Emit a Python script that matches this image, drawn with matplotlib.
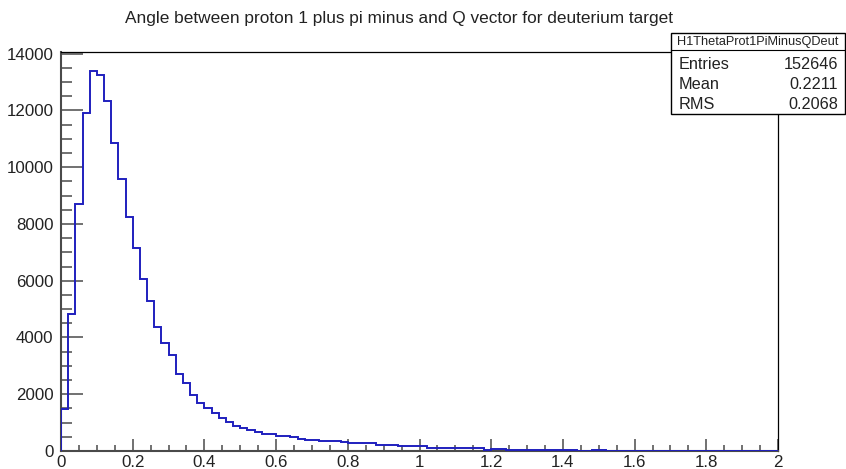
import numpy as np
import matplotlib
matplotlib.use("Agg")
import matplotlib.pyplot as plt
from matplotlib.patches import Rectangle
from matplotlib.lines import Line2D
from matplotlib.ticker import MultipleLocator

plt.rcParams['font.family'] = ['Liberation Sans', 'DejaVu Sans']

# Histogram: 100 bins of width 0.02 between 0 and 2
x_min, x_max, n_bins = 0.0, 2.0, 100
counts = [
    1465, 4810, 8690, 11900, 13390, 13250, 12350, 10870, 9590, 8240,
    7150, 6075, 5290, 4375, 3810, 3400, 2700, 2405, 1970, 1700,
    1525, 1350, 1150, 1010, 870, 800, 730, 680, 585, 585,
    530, 530, 480, 435, 400, 400, 350, 350, 350, 310,
    265, 265, 265, 265, 220, 220, 220, 165, 165, 165,
    165, 110, 110, 110, 110, 110, 110, 110, 110, 30,
    80, 80, 30, 30, 30, 30, 30, 30, 30, 30,
    30, 30, 0, 0, 25, 25,
]
counts = counts + [0] * (n_bins - len(counts))

title = "Angle between proton 1 plus pi minus and Q vector for deuterium target"
hist_name = "H1ThetaProt1PiMinusQDeut"
stat_labels = ["Entries", "Mean", "RMS"]
stat_values = ["152646", "0.2211", "0.2068"]

W, H = 846, 469
fig = plt.figure(figsize=(W / 100, H / 100), dpi=100)
fig.patch.set_facecolor("white")

left, right, top, bottom = 61, 778, 52, 451
ax = fig.add_axes([left / W, 1 - bottom / H, (right - left) / W, (bottom - top) / H])

edges = np.linspace(x_min, x_max, n_bins + 1)
ax.stairs(counts, edges, baseline=0, color="#1f1fbe", lw=1.4, zorder=3)

ax.set_xlim(x_min, x_max)
ax.set_ylim(0, max(counts) * 1.05)

ax.xaxis.set_major_locator(MultipleLocator(0.2))
ax.xaxis.set_minor_locator(MultipleLocator(0.05))
ax.yaxis.set_major_locator(MultipleLocator(2000))
ax.yaxis.set_minor_locator(MultipleLocator(500))
ax.xaxis.set_major_formatter(plt.FuncFormatter(lambda v, p: f"{v:g}"))

axis_grey = "#4a4a4a"
label_color = "#222222"
ax.tick_params(axis="x", which="major", direction="in", length=9, width=1.1,
               color=axis_grey, labelsize=12.2, pad=3, top=False,
               labelcolor=label_color)
ax.tick_params(axis="x", which="minor", direction="in", length=4.3, width=1.1,
               color=axis_grey, top=False)
ax.tick_params(axis="y", which="major", direction="in", length=15.5, width=1.1,
               color=axis_grey, labelsize=12.2, pad=5.5, right=False,
               labelcolor=label_color)
ax.tick_params(axis="y", which="minor", direction="in", length=8, width=1.1,
               color=axis_grey, right=False)

for side in ("left", "bottom"):
    ax.spines[side].set_color(axis_grey)
    ax.spines[side].set_linewidth(1.5)
for side in ("top", "right"):
    ax.spines[side].set_color("black")
    ax.spines[side].set_linewidth(0.9)

fig.text(0.5 * (122 + 676) / W, 1 - 18 / H, title, ha="center", va="center",
         fontsize=12.4, color=label_color)

# Statistics box in the top-right corner
bx0, bx1, by0, by1, by_sep = 671, 845, 33, 114, 50
fig.add_artist(Rectangle((bx0 / W, 1 - by1 / H), (bx1 - bx0) / W, (by1 - by0) / H,
                         transform=fig.transFigure, facecolor="white",
                         edgecolor="black", lw=1.0, zorder=10))
fig.add_artist(Line2D([bx0 / W, bx1 / W], [1 - by_sep / H, 1 - by_sep / H],
                      transform=fig.transFigure, color="black", lw=0.8, zorder=11))
fig.text((bx0 + bx1) / 2 / W, 1 - (by0 + by_sep) / 2 / H, hist_name,
         ha="center", va="center", fontsize=9.2, color=label_color, zorder=12)
row_centers = [64.5, 84.5, 104]
for yc_px, lab, val in zip(row_centers, stat_labels, stat_values):
    yc = 1 - yc_px / H
    fig.text(679 / W, yc, lab, ha="left", va="center", fontsize=11.7,
             color=label_color, zorder=12)
    fig.text(838 / W, yc, val, ha="right", va="center", fontsize=11.7,
             color=label_color, zorder=12)

fig.savefig("out.png", dpi=100)
